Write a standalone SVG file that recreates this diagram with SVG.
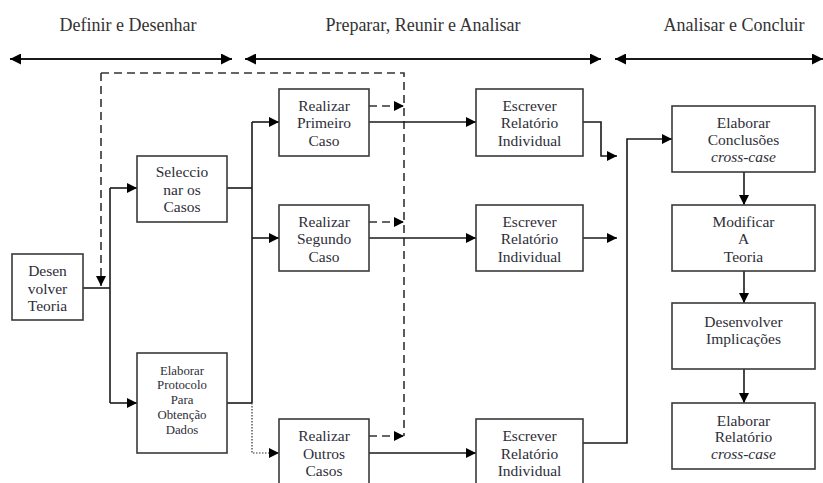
<svg xmlns="http://www.w3.org/2000/svg" width="823" height="483" viewBox="0 0 823 483">
  <style>
    .box { fill: #ffffff; stroke: #3a3a3a; stroke-width: 1.6; }
    .t { font-family: 'Liberation Serif', 'DejaVu Serif', 'Times New Roman', Times, serif; font-size: 15.5px; fill: #2e2e38; text-anchor: middle; }
    .ts { font-size: 12.8px; }
    .it { font-style: italic; }
    .title { font-family: 'Liberation Serif', 'DejaVu Serif', 'Times New Roman', Times, serif; font-size: 18px; fill: #333333; text-anchor: middle; }
    .ln { fill: none; stroke: #1a1a1a; stroke-width: 1.6; }
    .arr { marker-end: url(#head); }
    .dash { fill: none; stroke: #333333; stroke-width: 1.6; stroke-dasharray: 8 5; }
    .dot { fill: none; stroke: #333333; stroke-width: 1.2; stroke-dasharray: 1.5 1.5; }
    .phase { fill: none; stroke: #1a1a1a; stroke-width: 2.2; marker-start: url(#headBig); marker-end: url(#headBig); }
  </style>
  <defs>
    <marker id="head" viewBox="0 0 10 10" refX="10" refY="5" markerWidth="11" markerHeight="10" markerUnits="userSpaceOnUse" orient="auto">
      <path d="M0,0 L10,5 L0,10 Z" fill="#000000"/>
    </marker>
    <marker id="headBig" viewBox="0 0 10 10" refX="10" refY="5" markerWidth="12" markerHeight="11" markerUnits="userSpaceOnUse" orient="auto-start-reverse">
      <path d="M0,0 L10,5 L0,10 Z" fill="#000000"/>
    </marker>
  </defs>

  <!-- phase headings -->
  <g id="phases">
    <text class="title" x="128" y="31">Definir e Desenhar</text>
    <text class="title" x="423" y="31">Preparar, Reunir e Analisar</text>
    <text class="title" x="734" y="31">Analisar e Concluir</text>
    <line class="phase" x1="10" y1="59" x2="232" y2="59"/>
    <line class="phase" x1="245" y1="59" x2="601" y2="59"/>
    <line class="phase" x1="615" y1="59" x2="823" y2="59"/>
  </g>

  <!-- connectors -->
  <g id="connectors">
    <!-- feedback loop -->
    <path class="dash arr" d="M101,73 L101,286"/>
    <path class="dash" d="M101,73 L404,73 L404,436"/>
    <path class="dash arr" d="M369,106 L404,106"/>
    <path class="dash arr" d="M369,222 L404,222"/>
    <path class="dash arr" d="M369,436 L404,436"/>

    <!-- theory to selection and protocol -->
    <path class="ln" d="M83,288 L110,288"/>
    <path class="ln" d="M110,188 L110,403"/>
    <path class="ln arr" d="M110,188 L137,188"/>
    <path class="ln arr" d="M110,403 L137,403"/>

    <!-- selection / protocol to case studies -->
    <path class="ln" d="M227,188 L252,188"/>
    <path class="ln" d="M227,403 L252,403"/>
    <path class="ln" d="M252,122 L252,403"/>
    <path class="ln arr" d="M252,122 L279,122"/>
    <path class="ln arr" d="M252,238 L279,238"/>
    <path class="dot arr" d="M252,403 L252,453 L279,453"/>

    <!-- cases to reports -->
    <path class="ln arr" d="M369,122 L476,122"/>
    <path class="ln arr" d="M369,238 L476,238"/>
    <path class="ln arr" d="M369,453 L476,453"/>

    <!-- reports to cross-case conclusions -->
    <path class="ln arr" d="M583,122 L601,122 L601,156 L617,156"/>
    <path class="ln arr" d="M583,238 L617,238"/>
    <path class="ln arr" d="M583,443 L627,443 L627,139 L672,139"/>

    <!-- conclusion chain -->
    <path class="ln arr" d="M744,172 L744,205"/>
    <path class="ln arr" d="M744,271 L744,303"/>
    <path class="ln arr" d="M744,369 L744,403"/>
  </g>

  <g id="desenvolver-teoria">
    <rect class="box" x="12" y="254" width="71" height="66"/>
    <text class="t" x="47.5" y="276">Desen</text>
    <text class="t" x="47.5" y="294">volver</text>
    <text class="t" x="47.5" y="311">Teoria</text>
  </g>

  <g id="seleccionar-casos">
    <rect class="box" x="137" y="156" width="90" height="66"/>
    <text class="t" x="182" y="177">Seleccio</text>
    <text class="t" x="182" y="194.5">nar os</text>
    <text class="t" x="182" y="212">Casos</text>
  </g>

  <g id="elaborar-protocolo">
    <rect class="box" x="137" y="353" width="90" height="100"/>
    <text class="t ts" x="182" y="374.5">Elaborar</text>
    <text class="t ts" x="182" y="389">Protocolo</text>
    <text class="t ts" x="182" y="403.5">Para</text>
    <text class="t ts" x="182" y="418.5">Obtenção</text>
    <text class="t ts" x="182" y="434">Dados</text>
  </g>

  <g id="primeiro-caso">
    <rect class="box" x="279" y="89" width="90" height="67"/>
    <text class="t" x="324" y="111">Realizar</text>
    <text class="t" x="324" y="128">Primeiro</text>
    <text class="t" x="324" y="145.5">Caso</text>
  </g>

  <g id="segundo-caso">
    <rect class="box" x="279" y="205" width="90" height="66"/>
    <text class="t" x="324" y="227">Realizar</text>
    <text class="t" x="324" y="244">Segundo</text>
    <text class="t" x="324" y="261.5">Caso</text>
  </g>

  <g id="outros-casos">
    <rect class="box" x="279" y="419" width="90" height="67"/>
    <text class="t" x="324" y="441">Realizar</text>
    <text class="t" x="324" y="458.5">Outros</text>
    <text class="t" x="324" y="475.5">Casos</text>
  </g>

  <g id="relatorio-1">
    <rect class="box" x="476" y="89" width="107" height="67"/>
    <text class="t" x="529.5" y="111">Escrever</text>
    <text class="t" x="529.5" y="128">Relatório</text>
    <text class="t" x="529.5" y="145.5">Individual</text>
  </g>

  <g id="relatorio-2">
    <rect class="box" x="476" y="205" width="107" height="66"/>
    <text class="t" x="529.5" y="227">Escrever</text>
    <text class="t" x="529.5" y="244">Relatório</text>
    <text class="t" x="529.5" y="261.5">Individual</text>
  </g>

  <g id="relatorio-3">
    <rect class="box" x="476" y="419" width="107" height="67"/>
    <text class="t" x="529.5" y="441">Escrever</text>
    <text class="t" x="529.5" y="458.5">Relatório</text>
    <text class="t" x="529.5" y="475.5">Individual</text>
  </g>

  <g id="conclusoes">
    <rect class="box" x="672" y="106" width="143" height="66"/>
    <text class="t" x="743.5" y="127.5">Elaborar</text>
    <text class="t" x="743.5" y="144.5">Conclusões</text>
    <text class="t it" x="743.5" y="162">cross-case</text>
  </g>

  <g id="modificar-teoria">
    <rect class="box" x="672" y="205" width="143" height="66"/>
    <text class="t" x="743.5" y="226.5">Modificar</text>
    <text class="t" x="743.5" y="244">A</text>
    <text class="t" x="743.5" y="262">Teoria</text>
  </g>

  <g id="implicacoes">
    <rect class="box" x="672" y="303" width="143" height="66"/>
    <text class="t" x="743.5" y="327">Desenvolver</text>
    <text class="t" x="743.5" y="344">Implicações</text>
  </g>

  <g id="relatorio-cross-case">
    <rect class="box" x="672" y="403" width="143" height="66"/>
    <text class="t" x="743.5" y="425.5">Elaborar</text>
    <text class="t" x="743.5" y="442">Relatório</text>
    <text class="t it" x="743.5" y="459">cross-case</text>
  </g>
</svg>
